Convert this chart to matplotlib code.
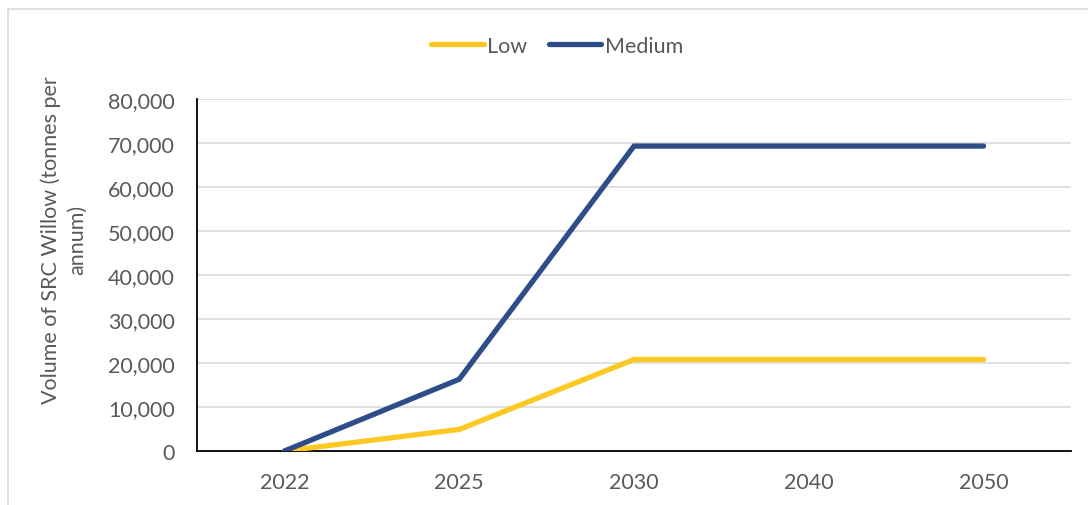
import matplotlib
matplotlib.use("Agg")
import matplotlib.pyplot as plt
from matplotlib.patches import Rectangle
from matplotlib.ticker import FuncFormatter

categories = ["2022", "2025", "2030", "2040", "2050"]
low = [0, 4900, 20800, 20800, 20800]
medium = [0, 16300, 69300, 69300, 69300]

W, H = 1088, 506
fig = plt.figure(figsize=(W / 100, H / 100), dpi=100)
plt.rcParams['font.family'] = ['Lato', 'DejaVu Sans']
txt = '#595959'
fs = 15.5

# outer chart frame
fig.patches.append(Rectangle((8 / W, -0.1), 1.2, 1 - 10 / H + 0.1, transform=fig.transFigure,
                             fill=False, edgecolor='#D9D9D9', linewidth=1.2, zorder=0))

ax = fig.add_axes([197 / W, 1 - 452 / H, (1071 - 197) / W, (452 - 100) / H])
x = list(range(len(categories)))
ax.plot(x, low, color='#FCC923', linewidth=3.8, solid_capstyle='round', solid_joinstyle='miter', label='Low', zorder=3)
ax.plot(x, medium, color='#2E4D88', linewidth=3.8, solid_capstyle='round', solid_joinstyle='miter', label='Medium', zorder=3)

ax.set_xlim(-0.5, len(categories) - 0.5)
ax.set_ylim(0, 80000)
ax.set_yticks(range(0, 80001, 10000))
ax.yaxis.set_major_formatter(FuncFormatter(lambda v, p: f"{int(v):,}"))
ax.set_xticks(x)
ax.set_xticklabels(categories)
ax.grid(axis='y', color='#D9D9D9', linewidth=1.2, zorder=0)
ax.set_axisbelow(True)
for s in ['top', 'right']:
    ax.spines[s].set_visible(False)
for s in ['left', 'bottom']:
    ax.spines[s].set_color('black')
    ax.spines[s].set_linewidth(1.3)
ax.tick_params(axis='both', length=0, labelsize=fs, colors=txt)
ax.tick_params(axis='y', pad=16)
ax.tick_params(axis='x', pad=15)

fig.text(64 / W, 1 - 240 / H, "Volume of SRC Willow (tonnes per\nannum)", rotation=90,
         ha='center', va='center', fontsize=fs, color=txt, linespacing=1.4)

leg = fig.legend(loc='center', bbox_to_anchor=(557 / W, 1 - 47 / H), ncol=2, frameon=False,
                 fontsize=fs, handlelength=2.45, handletextpad=0.15, columnspacing=1.0)
for t in leg.get_texts():
    t.set_color(txt)

fig.savefig("out.png", dpi=100)
